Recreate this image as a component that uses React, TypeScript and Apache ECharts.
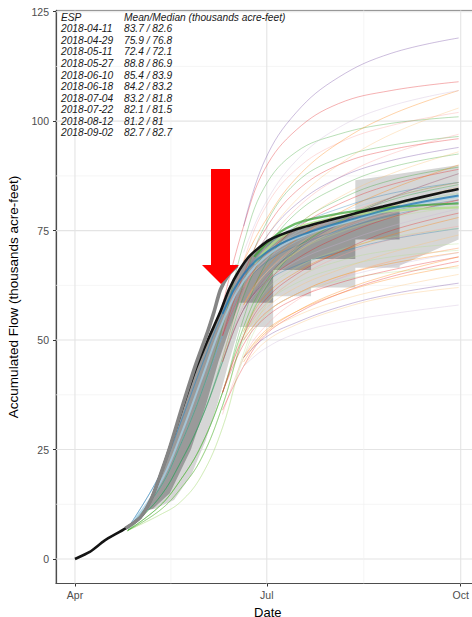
import React, { useEffect, useRef } from 'react';
import * as echarts from 'echarts';

const ORIGIN_DATE = '2018-04-01';
const X_MIN_DATE = '2018-03-23';
const X_MAX_DATE = '2018-10-10';
const X_TICK_DATES = ['2018-04-01', '2018-07-01', '2018-10-01'];
const X_TICK_LABELS = ['Apr', 'Jul', 'Oct'];
const X_MINOR_DATES = ['2018-05-16T12:00:00Z', '2018-08-16'];
const Y_TICKS = [0, 25, 50, 75, 100, 125];
const Y_MINOR = [12.5, 37.5, 62.5, 87.5, 112.5];
const Y_MIN = -5.6;
const Y_MAX = 125.3;

const ESP_DATES = ['2018-04-11', '2018-04-29', '2018-05-11', '2018-05-27', '2018-06-10', '2018-06-18', '2018-07-04', '2018-07-22', '2018-08-12', '2018-09-02'];
const ESP_MEANS = [83.7, 75.9, 72.4, 88.8, 85.4, 84.2, 83.2, 82.1, 81.2, 82.7];
const ESP_MEDIANS = [82.6, 76.8, 72.1, 86.9, 83.9, 83.2, 81.8, 81.5, 81, 82.7];
const ESP_COLORS = ['#A6CEE3', '#1F78B4', '#B2DF8A', '#33A02C', '#FB9A99', '#E31A1C', '#FDBF6F', '#FF7F00', '#CAB2D6', '#6A3D9A'];
// first date at which each group's traces are visible
const ESP_TRACE_START = ['2018-04-26', '2018-04-26', '2018-04-26', '2018-04-26', '2018-06-10', '2018-06-10', '2018-06-20', '2018-06-20', '2018-06-20', '2018-06-20'];

// thick black accumulated-flow line
const OBS_DATES = ['2018-04-01', '2018-04-08', '2018-04-15', '2018-04-25', '2018-05-02', '2018-05-07', '2018-05-11', '2018-05-16', '2018-05-22', '2018-05-28', '2018-06-03', '2018-06-09', '2018-06-13', '2018-06-18', '2018-06-23', '2018-07-02', '2018-07-15', '2018-07-31', '2018-08-14', '2018-08-25', '2018-09-05', '2018-09-21', '2018-09-30'];
const OBS_VALUES = [0, 1.6, 4.2, 7, 9.5, 13.5, 18.5, 25.5, 34.5, 43, 50, 56.5, 61.5, 66, 69.3, 72.8, 75.3, 77.4, 79.2, 80.5, 81.8, 83.6, 84.5];

// thick gray observed line (rising limb)
const EARLY_DATES = ['2018-04-25', '2018-05-02', '2018-05-07', '2018-05-11', '2018-05-16', '2018-05-22', '2018-05-28', '2018-06-03', '2018-06-06', '2018-06-09', '2018-06-13', '2018-06-17'];
const EARLY_VALUES = [7, 9.5, 13.5, 18.5, 25.5, 35, 44, 52, 56.5, 61.5, 65, 67];

// ensemble traces, values at TRACE_DATES
const TRACE_DATES = ['2018-04-26', '2018-05-11', '2018-05-21', '2018-05-31', '2018-06-10', '2018-06-20', '2018-06-30', '2018-07-15', '2018-08-04', '2018-08-29', '2018-09-30'];
const TRACES_0411 = [
  [7, 19, 31, 44, 56, 65, 70, 74, 77.5, 80.8, 83.5],
  [7, 16, 26, 38, 51, 62, 68, 72.5, 76.5, 80, 82.8],
  [7, 14, 22, 32, 45, 58, 65, 70.5, 75, 79, 82],
  [7, 16, 26, 38, 51, 62, 69, 74.5, 79, 82.5, 85],
];
const TRACES_0429 = [
  [7, 19, 31, 44, 56, 65, 70, 73.5, 76.5, 79.5, 82],
  [7, 16, 26, 38, 51, 62, 67.5, 71.5, 75, 78.5, 81.5],
  [7, 14, 22, 32, 45, 57, 63, 67, 70, 73, 75.5],
  [7, 19, 31, 44, 56, 65, 71, 76, 80, 83.5, 86],
];
const TRACES_0511 = [
  [6.5, 12, 18, 26, 38, 52, 61, 66.5, 70.5, 73.5, 75.5],
  [6.5, 11, 16, 23, 35, 50, 58, 63, 66.5, 69, 70.5],
  [6.5, 12, 18, 26, 38, 53, 63, 70, 74.5, 78, 80.5],
  [6.5, 10, 13, 19, 30, 46, 55.5, 60.5, 63.5, 65.5, 66.5],
  [6.5, 11, 16, 23, 35, 51, 62, 70.5, 76, 80.5, 83.5],
  [6.5, 10, 13, 19, 30, 47, 57.5, 64, 68, 70.5, 72],
];
const TRACES_0527 = [
  [6.5, 14, 22, 32, 45, 60, 70, 79, 85, 89.5, 92.5],
  [6.5, 12, 18, 26, 38, 55, 67, 76, 82, 86.5, 89.5],
  [6.5, 14, 22, 32, 46, 63, 76, 86, 91.5, 94.5, 96.5],
  [6.5, 12, 18, 26, 38, 53, 63, 71, 77, 82, 85.5],
  [6.5, 11, 16, 23, 35, 51, 61.5, 70.5, 77, 82.5, 86],
  [7, 16, 26, 38, 53, 72, 85, 93, 97, 99.5, 101],
];
const TRACES_0610 = [
  [7, 16, 26, 38, 52, 68, 80, 89, 95, 99, 102],
  [7, 14, 22, 32, 46, 61, 71, 80, 87, 92.5, 97],
  [7, 16, 26, 38, 51, 62, 68, 73.5, 78, 82.5, 86],
  [6.5, 12, 18, 26, 38, 51, 58, 64, 69, 73, 76],
  [6.5, 10, 14, 20, 33, 46, 53, 59, 64, 68, 71],
  [7, 14, 22, 32, 45, 58, 65, 71, 75.5, 79, 82],
];
const TRACES_0618 = [
  [7, 19, 31, 44, 58, 76, 89, 98, 104, 107, 109],
  [7, 16, 26, 38, 51, 65, 75, 84, 90, 93.5, 96],
  [7, 14, 22, 32, 45, 57, 63, 68.5, 73.5, 78, 82],
  [6.5, 12, 18, 26, 38, 49, 55, 59.5, 63, 66, 69],
  [6.5, 9, 11.5, 16, 34, 44, 51, 56, 60.5, 64.5, 68],
  [6.5, 12, 18, 26, 38, 51, 59, 65, 70, 75, 79],
  [7, 16, 26, 38, 51, 62, 69, 75.5, 81, 85.5, 89],
];
const TRACES_0704 = [
  [7, 16, 26, 38, 51, 64, 73, 82, 90, 97, 103],
  [6.5, 12, 18, 26, 38, 51, 57, 62, 66, 70, 74],
  [6.5, 10, 14, 20, 31, 46, 51.5, 55.5, 59, 62, 65],
  [6.5, 9, 11.5, 16, 26, 44, 49.5, 53.5, 57, 60, 62],
  [7, 14, 22, 32, 45, 57, 64, 70, 75.5, 80.5, 85],
  [6.5, 12, 18, 26, 38, 50, 56, 60.5, 64.5, 68, 71],
  [7, 14, 22, 32, 45, 58, 65, 71.5, 77, 82.5, 88],
  [7, 16, 26, 38, 51, 62, 69, 76, 82.5, 88, 93],
];
const TRACES_0722 = [
  [7, 19, 31, 44, 57, 68, 77, 87, 95, 101.5, 107],
  [6.5, 10, 14, 20, 31, 46, 52, 56.5, 60.5, 64, 67],
  [6.5, 12, 18, 26, 38, 52, 60, 65.5, 70, 74, 78],
  [6.5, 9, 11.5, 16, 26, 45, 51.5, 56.5, 61, 65, 69],
  [7, 14, 22, 32, 45, 58, 66, 73, 79, 84.5, 90],
  [6.5, 12, 18, 26, 38, 50, 56, 60.5, 64.5, 67.5, 70],
];
const TRACES_0812 = [
  [7, 19, 31, 44, 57, 70, 81, 91, 98.5, 103.5, 107],
  [6.5, 12, 18, 26, 38, 50, 56, 60.5, 64, 67, 70],
  [6.5, 9, 11.5, 16, 26, 44, 48, 51.5, 54, 56, 58],
  [7, 14, 22, 32, 45, 57, 63, 68, 72, 76, 80],
];
const TRACES_0902 = [
  [7, 19, 31, 44, 58, 76, 91, 102, 110, 115.5, 119],
  [7, 16, 26, 38, 51, 64, 73, 81, 87, 91, 94],
  [6.5, 10, 14, 20, 31, 46, 50.5, 54, 57.5, 60.5, 63],
  [7, 14, 22, 32, 45, 57, 64, 70.5, 76.5, 82.5, 88],
];
const TRACE_GROUPS = [TRACES_0411, TRACES_0429, TRACES_0511, TRACES_0527, TRACES_0610, TRACES_0618, TRACES_0704, TRACES_0722, TRACES_0812, TRACES_0902];

// thicker central lines
const MED_LIGHTBLUE_DATES = ['2018-04-26', '2018-05-11', '2018-05-21', '2018-05-31', '2018-06-10', '2018-06-20', '2018-07-04', '2018-07-22', '2018-08-12', '2018-09-02', '2018-09-30'];
const MED_LIGHTBLUE_VALUES = [7, 17, 28, 41, 54, 63.5, 70.3, 74.5, 77.5, 80.2, 82.8];
const MED_BLUE_DATES = ['2018-06-10', '2018-06-20', '2018-07-04', '2018-07-22', '2018-08-12', '2018-09-02', '2018-09-30'];
const MED_BLUE_VALUES = [56, 65, 71, 74.8, 77.8, 80.5, 83];
const MED_GREEN_DATES = ['2018-06-25', '2018-07-10', '2018-08-01', '2018-08-29', '2018-09-30'];
const MED_GREEN_VALUES = [69, 75.5, 78.6, 80.3, 81.2];
const MED_LIGHTGREEN_VALUES = [67.5, 74.3, 77.8, 79.5, 80.3];

// shaded ranges (upper edge then lower edge, as one outline)
const LIGHT_BAND: [string, number][] = [
  ['2018-05-04', 11], ['2018-05-07', 13.5], ['2018-05-11', 18.5], ['2018-05-16', 25.5], ['2018-05-22', 34.5],
  ['2018-05-28', 43], ['2018-06-03', 50], ['2018-06-09', 56.5], ['2018-06-13', 61.5], ['2018-06-18', 66],
  ['2018-06-23', 69.3], ['2018-07-02', 72.8], ['2018-07-15', 75.3], ['2018-07-31', 77.4], ['2018-08-12', 79],
  ['2018-08-12', 86.5], ['2018-09-30', 90],
  ['2018-09-30', 73], ['2018-09-02', 67], ['2018-09-02', 66.5], ['2018-08-12', 66.5], ['2018-08-12', 62],
  ['2018-07-22', 62], ['2018-07-22', 60], ['2018-07-04', 60], ['2018-07-04', 53], ['2018-06-18', 53],
  ['2018-06-13', 45], ['2018-06-08', 36], ['2018-06-02', 27], ['2018-05-26', 19], ['2018-05-18', 13.5], ['2018-05-09', 11.5],
];
const DARK_BAND: [string, number][] = [
  ['2018-05-04', 11], ['2018-05-07', 13.5], ['2018-05-11', 18.5], ['2018-05-16', 25.5], ['2018-05-22', 34.5],
  ['2018-05-28', 43], ['2018-06-03', 50], ['2018-06-09', 56.5], ['2018-06-13', 61.5], ['2018-06-18', 66],
  ['2018-06-23', 69.3], ['2018-07-02', 72.8], ['2018-07-15', 75.1], ['2018-07-31', 77.1], ['2018-08-14', 78.9],
  ['2018-09-02', 80.9],
  ['2018-09-02', 73], ['2018-08-12', 73], ['2018-08-12', 68.5], ['2018-07-22', 68.5], ['2018-07-22', 66],
  ['2018-07-04', 66], ['2018-07-04', 58.5], ['2018-06-18', 58.5], ['2018-06-13', 52], ['2018-06-08', 45],
  ['2018-06-02', 35], ['2018-05-26', 25], ['2018-05-16', 15], ['2018-05-08', 11.5],
];

const ARROW_POINTS = [[211, 169], [230, 169], [230, 265], [239, 265], [221, 284], [202, 265], [211, 265]];

const DAY = 86400000;
const toDay = (d: string) => (Date.parse(d) - Date.parse(ORIGIN_DATE)) / DAY;
const X_MIN = toDay(X_MIN_DATE);
const X_MAX = toDay(X_MAX_DATE);
const X_TICK_DAYS = X_TICK_DATES.map(toDay);

const FONT = 'Liberation Sans, Arial, Helvetica, sans-serif';

function pairs(dates: string[], values: number[], from?: string) {
  const start = from ? toDay(from) : -Infinity;
  return dates.map((d, i) => [toDay(d), values[i]]).filter((p) => p[0] >= start);
}

function gridLine(data: number[][], major: boolean) {
  return {
    type: 'line',
    data,
    symbol: 'none',
    silent: true,
    z: 0,
    lineStyle: { color: major ? '#e4e4e4' : '#f0f0f0', width: major ? 1.1 : 0.7 },
  };
}

function bandSeries(poly: [string, number][], color: string) {
  return {
    type: 'custom',
    silent: true,
    z: 1,
    clip: true,
    data: [[toDay(poly[0][0]), poly[0][1]]],
    renderItem: (_params: any, api: any) => ({
      type: 'polygon',
      shape: { points: poly.map(([d, v]) => api.coord([toDay(d), v])) },
      style: { fill: color },
    }),
  };
}

function lineSeries(data: number[][], color: string, width: number, opacity: number, z: number, smooth = 0.4) {
  return {
    type: 'line',
    data,
    symbol: 'none',
    silent: true,
    smooth,
    z,
    lineStyle: { color, width, opacity },
  };
}

export default function App() {
  const ref = useRef<HTMLDivElement>(null);
  useEffect(() => {
    if (!ref.current) return;
    const chart = echarts.init(ref.current, undefined, { renderer: 'svg' });
    const series: any[] = [];
    Y_TICKS.forEach((v) => series.push(gridLine([[X_MIN, v], [X_MAX, v]], true)));
    Y_MINOR.forEach((v) => series.push(gridLine([[X_MIN, v], [X_MAX, v]], false)));
    X_TICK_DAYS.forEach((d) => series.push(gridLine([[d, Y_MIN], [d, Y_MAX]], true)));
    X_MINOR_DATES.forEach((d) => series.push(gridLine([[toDay(d), Y_MIN], [toDay(d), Y_MAX]], false)));
    series.push(bandSeries(LIGHT_BAND, '#d6d6d6'));
    series.push(bandSeries(DARK_BAND, '#9a9a9a'));
    TRACE_GROUPS.forEach((group, gi) => {
      group.forEach((vals) => {
        series.push(lineSeries(pairs(TRACE_DATES, vals, ESP_TRACE_START[gi]), ESP_COLORS[gi], 0.9, 0.38, 2));
      });
    });
    series.push(lineSeries(pairs(MED_LIGHTBLUE_DATES, MED_LIGHTBLUE_VALUES), ESP_COLORS[0], 2, 0.8, 3));
    series.push(lineSeries(pairs(MED_GREEN_DATES, MED_LIGHTGREEN_VALUES), ESP_COLORS[2], 2.2, 0.8, 3));
    series.push(lineSeries(pairs(MED_GREEN_DATES, MED_GREEN_VALUES), ESP_COLORS[3], 2.2, 0.7, 3));
    series.push(lineSeries(pairs(MED_BLUE_DATES, MED_BLUE_VALUES), ESP_COLORS[1], 2, 0.75, 3));
    series.push(lineSeries(pairs(OBS_DATES, OBS_VALUES), '#141414', 2.6, 1, 4, 0.2));
    series.push(lineSeries(pairs(EARLY_DATES, EARLY_VALUES), '#858585', 3.6, 1, 5, 0.25));

    const textStyle = { fontFamily: FONT, fontSize: 10.2, fontStyle: 'italic', fill: '#1a1a1a', verticalAlign: 'middle' };
    const texts: any[] = [
      { type: 'text', x: 61, y: 17.3, z: 50, style: { ...textStyle, text: 'ESP' } },
      { type: 'text', x: 124, y: 17.3, z: 50, style: { ...textStyle, text: 'Mean/Median (thousands acre-feet)' } },
    ];
    ESP_DATES.forEach((d, i) => {
      const y = 17.3 + (i + 1) * 11.54;
      texts.push({ type: 'text', x: 61, y, z: 50, style: { ...textStyle, text: d } });
      texts.push({ type: 'text', x: 124, y, z: 50, style: { ...textStyle, text: `${ESP_MEANS[i]} / ${ESP_MEDIANS[i]}` } });
    });
    texts.push({ type: 'polygon', z: 60, shape: { points: ARROW_POINTS }, style: { fill: '#ff0000' } });

    chart.setOption({
      animation: false,
      backgroundColor: '#ffffff',
      grid: {
        left: 56, right: 10.3, top: 10.4, bottom: 33.5,
        containLabel: false, outerBoundsMode: 'none',
        show: true, borderColor: '#8c8c8c', borderWidth: 1, backgroundColor: 'transparent',
      },
      xAxis: {
        type: 'value',
        min: X_MIN,
        max: X_MAX,
        name: 'Date',
        nameLocation: 'middle',
        nameGap: 14,
        nameTextStyle: { fontFamily: FONT, fontSize: 13, lineHeight: 14, color: '#000' },
        axisLine: { show: true, onZero: false, lineStyle: { color: '#4d4d4d', width: 1.2 } },
        axisTick: { show: true, customValues: X_TICK_DAYS, length: 3, lineStyle: { color: '#333' } },
        axisLabel: {
          customValues: X_TICK_DAYS,
          margin: 6,
          fontFamily: FONT,
          fontSize: 10.5,
          color: '#4d4d4d',
          formatter: (v: number) => {
            const i = X_TICK_DAYS.indexOf(v);
            return i >= 0 ? X_TICK_LABELS[i] : '';
          },
        },
        splitLine: { show: false },
      },
      yAxis: {
        type: 'value',
        min: Y_MIN,
        max: Y_MAX,
        name: 'Accumulated Flow (thousands acre-feet)',
        nameLocation: 'middle',
        nameGap: 35,
        nameTextStyle: { fontFamily: FONT, fontSize: 13.5, color: '#000' },
        axisLine: { show: true, onZero: false, lineStyle: { color: '#4d4d4d', width: 1.2 } },
        axisTick: { show: true, customValues: Y_TICKS, length: 3, lineStyle: { color: '#333' } },
        axisLabel: { customValues: Y_TICKS, margin: 7, fontFamily: FONT, fontSize: 10.5, color: '#4d4d4d' },
        splitLine: { show: false },
      },
      graphic: texts,
      series,
    });
    return () => chart.dispose();
  }, []);
  return <div ref={ref} style={{ position: 'fixed', left: 0, top: 0, width: 490, height: 617 }} />;
}
